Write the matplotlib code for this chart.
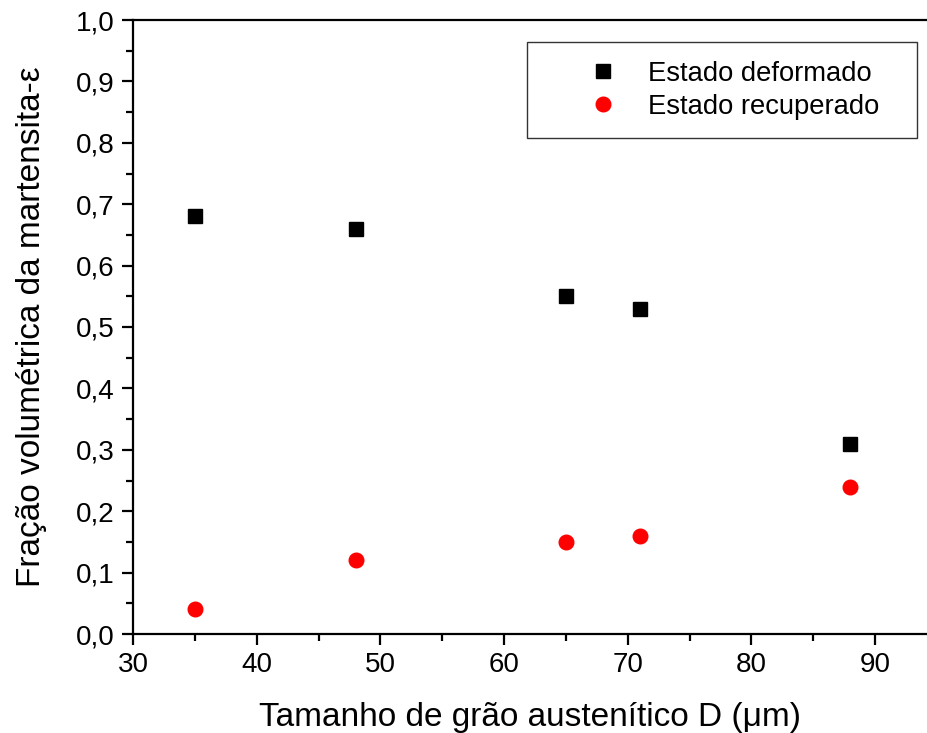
import matplotlib
matplotlib.use("Agg")
import matplotlib.pyplot as plt
from matplotlib.ticker import MultipleLocator, FuncFormatter

plt.rcParams['font.family'] = ['Liberation Sans', 'DejaVu Sans']

grain_size = [35, 48, 65, 71, 88]
deformado = [0.68, 0.66, 0.55, 0.53, 0.31]
recuperado = [0.04, 0.12, 0.15, 0.16, 0.24]

fig = plt.figure(figsize=(9.27, 7.33), dpi=100)
ax = fig.add_axes([133/927, 99/733, 1 - 133/927, (634-20)/733])

ax.plot(grain_size, deformado, linestyle='none', marker='s', color='black',
        markersize=10, label='Estado deformado')
ax.plot(grain_size, recuperado, linestyle='none', marker='o', color='red',
        markersize=10.5, label='Estado recuperado')

ax.set_xlim(30, 94.2)
ax.set_ylim(0, 1.0)
ax.xaxis.set_major_locator(MultipleLocator(10))
ax.xaxis.set_minor_locator(MultipleLocator(5))
ax.yaxis.set_major_locator(MultipleLocator(0.1))
ax.yaxis.set_minor_locator(MultipleLocator(0.05))
ax.yaxis.set_major_formatter(FuncFormatter(lambda v, p: f"{v:.1f}".replace('.', ',')))

for s in ['left', 'bottom', 'top']:
    ax.spines[s].set_linewidth(1.6)
ax.spines['right'].set_visible(False)

ax.tick_params(which='major', direction='out', length=8, width=1.6, labelsize=20, pad=5)
ax.tick_params(which='minor', direction='out', length=5, width=1.6)
ax.tick_params(top=False, right=False, which='both')

ax.set_xlabel('Tamanho de grão austenítico D (μm)', fontsize=24, labelpad=17)
ax.set_ylabel('Fração volumétrica da martensita-ε', fontsize=24, labelpad=21)

W = 927 - 133
H = 634 - 20
x0 = (527 - 133) / W
x1 = (917 - 133) / W
y1 = (634 - 42) / H
y0 = (634 - 132) / H
leg = ax.legend(loc='upper left', bbox_to_anchor=(x0, y0, x1 - x0, y1 - y0),
                mode='expand', bbox_transform=ax.transAxes, borderaxespad=0,
                fontsize=19.7, frameon=True, fancybox=False,
                edgecolor='black', borderpad=0.68, handletextpad=-0.45, handlelength=4.19,
                labelspacing=0.26)
leg.get_frame().set_linewidth(1.0)

fig.savefig('out.png', dpi=100)
